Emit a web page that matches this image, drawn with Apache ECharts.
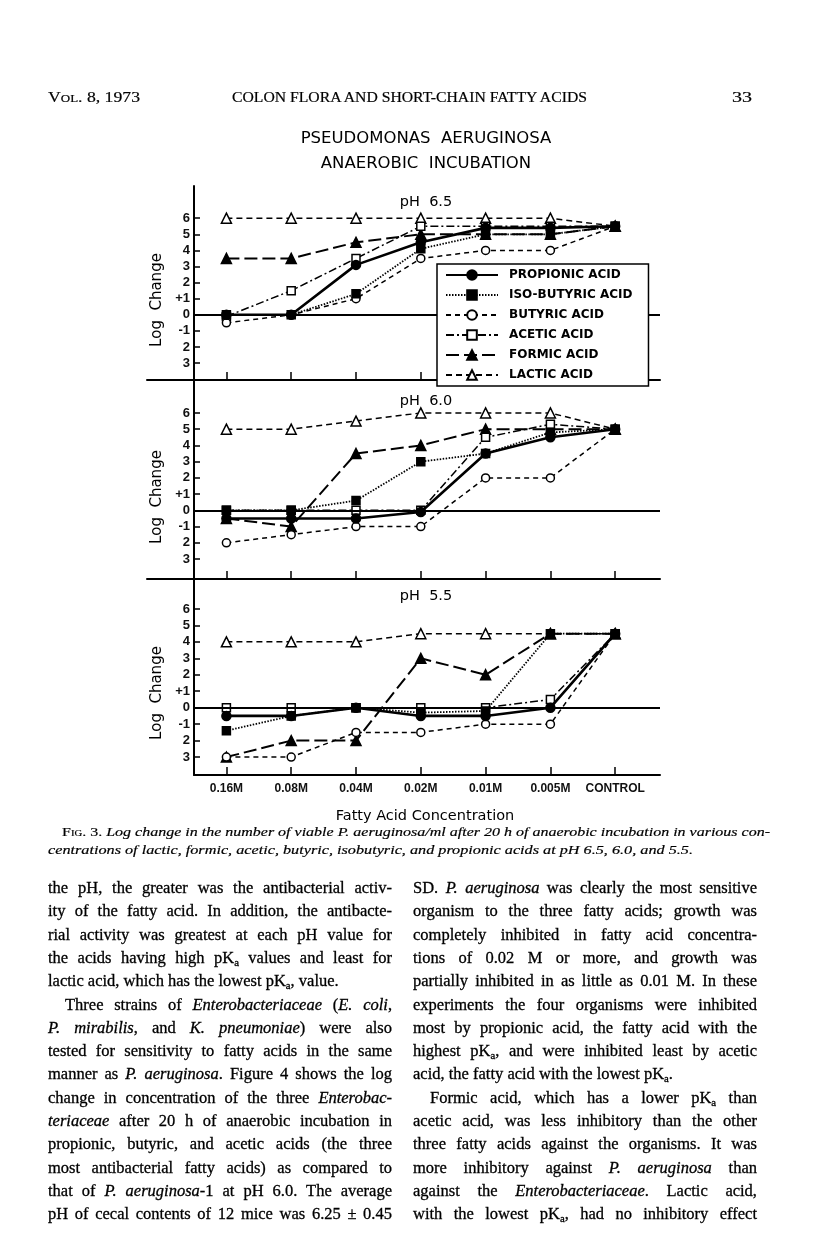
<!DOCTYPE html>
<html><head><meta charset="utf-8">
<script src="https://cdn.jsdelivr.net/npm/echarts@6/dist/echarts.min.js"></script>
<style>
html,body{margin:0;padding:0;background:#fff;}
#page{position:relative;width:816px;height:1245px;overflow:hidden;background:#fff;}
#chart{position:absolute;left:0;top:0;width:816px;height:1245px;}
.t{position:absolute;font-family:"Liberation Serif","Times New Roman",serif;color:#000;white-space:nowrap;transform-origin:0 50%;line-height:1;-webkit-text-stroke:0.2px #000;}
.ln{position:absolute;font-family:"Liberation Serif","Times New Roman",serif;font-size:16.5px;color:#000;white-space:nowrap;line-height:1;-webkit-text-stroke:0.3px #000;}
.cap{font-size:13.5px;font-style:italic;}
.sc{font-style:normal;font-variant:small-caps;}
sub{font-size:65%;vertical-align:-3px;line-height:0;}
</style></head>
<body><div id="page"><div id="chart"></div>
<div class="t" data-w="92" style="left:48px;top:90px;font-size:15px;font-variant:small-caps">Vol. 8, 1973</div>
<div class="t" data-w="355" style="left:232px;top:90px;font-size:15px">COLON FLORA AND SHORT-CHAIN FATTY ACIDS</div>
<div class="t" data-w="20" style="left:732px;top:90px;font-size:15px">33</div>
<div class="t cap" data-w="708" style="left:62px;top:825px;"><span class="sc">Fig. 3.</span> Log change in the number of viable P. aeruginosa/ml after 20 h of anaerobic incubation in various con-</div>
<div class="t cap" data-w="645" style="left:48px;top:843px;">centrations of lactic, formic, acetic, butyric, isobutyric, and propionic acids at pH 6.5, 6.0, and 5.5.</div>
<div id="body"></div>
</div>
<script>
// ---------------- data ----------------
const categories = ['0.16M', '0.08M', '0.04M', '0.02M', '0.01M', '0.005M', 'CONTROL'];
const acids = ['PROPIONIC ACID', 'ISO-BUTYRIC ACID', 'BUTYRIC ACID', 'ACETIC ACID', 'FORMIC ACID', 'LACTIC ACID'];
const panelTitles = ['pH  6.5', 'pH  6.0', 'pH  5.5'];
const yTicks = [-3, -2, -1, 0, 1, 2, 3, 4, 5, 6];
const yTickLabels = ['3', '2', '-1', '0', '+1', '2', '3', '4', '5', '6'];

// pH 6.5
const ph65Propionic  = [0, 0, 3.1, 4.5, 5.4, 5.4, 5.5];
const ph65IsoButyric = [0, 0, 1.3, 4.1, 5.0, 5.0, 5.5];
const ph65Butyric    = [-0.5, 0, 1.0, 3.5, 4.0, 4.0, 5.5];
const ph65Acetic     = [-0.1, 1.5, 3.5, 5.5, 5.5, 5.5, 5.5];
const ph65Formic     = [3.5, 3.5, 4.5, 5.0, 5.0, 5.0, 5.5];
const ph65Lactic     = [6, 6, 6, 6, 6, 6, 5.5];
// pH 6.0
const ph60Propionic  = [-0.5, -0.5, -0.5, -0.1, 3.5, 4.5, 5];
const ph60IsoButyric = [0, 0, 0.6, 3.0, 3.5, 4.8, 5];
const ph60Butyric    = [-2, -1.5, -1, -1, 2, 2, 5];
const ph60Acetic     = [0, 0, 0, 0, 4.5, 5.3, 5];
const ph60Formic     = [-0.5, -1, 3.5, 4.0, 5.0, 5.0, 5];
const ph60Lactic     = [5, 5, 5.5, 6, 6, 6, 5];
// pH 5.5
const ph55Propionic  = [-0.5, -0.5, 0, -0.5, -0.5, 0, 4.5];
const ph55IsoButyric = [-1.4, -0.5, 0, -0.3, -0.2, 4.5, 4.5];
const ph55Butyric    = [-3, -3, -1.5, -1.5, -1, -1, 4.5];
const ph55Acetic     = [0, 0, 0, 0, 0, 0.5, 4.5];
const ph55Formic     = [-3, -2, -2, 3, 2, 4.5, 4.5];
const ph55Lactic     = [4, 4, 4, 4.5, 4.5, 4.5, 4.5];

const panelData = [
  [ph65Propionic, ph65IsoButyric, ph65Butyric, ph65Acetic, ph65Formic, ph65Lactic],
  [ph60Propionic, ph60IsoButyric, ph60Butyric, ph60Acetic, ph60Formic, ph60Lactic],
  [ph55Propionic, ph55IsoButyric, ph55Butyric, ph55Acetic, ph55Formic, ph55Lactic]
];

// ---------------- styles / layout ----------------
const acidStyle = [
  {symbol: 'circle',   size: 9,  fill: '#000', dash: 'solid',     width: 2.6},
  {symbol: 'rect',     size: 8,  fill: '#000', dash: [1.5, 1.5],  width: 1.8},
  {symbol: 'circle',   size: 8,  fill: '#fff', dash: [5, 4],      width: 1.5},
  {symbol: 'rect',     size: 8,  fill: '#fff', dash: [8, 3, 2, 3], width: 1.5},
  {symbol: 'triangle', size: 10, fill: '#000', dash: [13, 5],     width: 2},
  {symbol: 'triangle', size: 10, fill: '#fff', dash: [6, 4],      width: 1.5}
];
const AX = 194, STEP = 64.8, RIGHT = 660, SEP_LEFT = 147;
const xMaxV = (RIGHT - AX) / STEP;
const gridBoxes = [
  {left: SEP_LEFT, top: 186, width: RIGHT - SEP_LEFT, height: 194, xmin: -(AX - SEP_LEFT) / STEP, ymin: -4.05, ymax: 8.0},
  {left: SEP_LEFT, top: 380, width: RIGHT - SEP_LEFT, height: 199, xmin: -(AX - SEP_LEFT) / STEP, ymin: -4.23, ymax: 8.03},
  {left: AX,       top: 579, width: RIGHT - AX,       height: 196, xmin: 0, ymin: -4.09, ymax: 7.82}
];
const xPos = categories.map((c, i) => i + 0.5);
const SANS = '"Liberation Sans", Arial, sans-serif';
const WIDE = '"DejaVu Sans", "Liberation Sans", sans-serif';

const grids = [], xAxes = [], yAxes = [], series = [];
gridBoxes.forEach((g, p) => {
  grids.push({left: g.left, top: g.top, width: g.width, height: g.height, containLabel: false});
  xAxes.push({
    type: 'value', gridIndex: p, min: g.xmin, max: xMaxV, position: 'bottom',
    axisLine: {show: true, onZero: false, lineStyle: {color: '#000', width: 2}},
    axisTick: {show: true, inside: true, length: 8, customValues: xPos, lineStyle: {color: '#000', width: 1.5}},
    axisLabel: {show: p === 2, customValues: xPos, margin: 8,
      formatter: v => categories[Math.round(v - 0.5)] || '',
      fontFamily: SANS, fontWeight: 'bold', fontSize: 12, color: '#111'},
    splitLine: {show: false}
  });
  yAxes.push({
    type: 'value', gridIndex: p, min: g.ymin, max: g.ymax, position: 'left',
    offset: g.left - AX,
    axisLine: {show: true, onZero: false, lineStyle: {color: '#000', width: 2}},
    axisTick: {show: true, inside: true, length: 6, customValues: yTicks, lineStyle: {color: '#000', width: 1.5}},
    axisLabel: {show: true, customValues: yTicks, margin: 4,
      formatter: v => { const k = yTicks.indexOf(Math.round(v)); return k >= 0 ? yTickLabels[k] : ''; },
      fontFamily: SANS, fontWeight: 'bold', fontSize: 13, color: '#111'},
    splitLine: {show: false}
  });
  panelData[p].forEach((vals, a) => {
    const st = acidStyle[a];
    const s = {
      name: acids[a], type: 'line', xAxisIndex: p, yAxisIndex: p,
      data: vals.map((v, i) => [xPos[i], v]),
      symbol: st.symbol, symbolSize: st.size, showSymbol: true,
      lineStyle: {color: '#000', width: st.width, type: st.dash},
      itemStyle: {color: st.fill, borderColor: '#000', borderWidth: 1.5},
      emphasis: {disabled: true}, animation: false, z: 3 + (5 - a) * 0.1
    };
    if (a === 0) {
      s.markLine = {
        silent: true, symbol: ['none', 'none'], label: {show: false}, animation: false,
        lineStyle: {color: '#000', type: 'solid', width: 1.8},
        data: [[{coord: [0, 0]}, {coord: [xMaxV, 0]}]]
      };
    }
    series.push(s);
  });
});

const titles = [
  {text: 'PSEUDOMONAS  AERUGINOSA\nANAEROBIC  INCUBATION', left: 421, top: 121, textAlign: 'center',
   textStyle: {fontFamily: WIDE, fontSize: 16.5, fontWeight: 'normal', color: '#000', lineHeight: 25}},
  {text: 'Fatty Acid Concentration', left: 420, top: 804, textAlign: 'center',
   textStyle: {fontFamily: WIDE, fontSize: 14.5, fontWeight: 'normal', color: '#000'}}
];
[190, 389, 584].forEach((t, p) => titles.push({
  text: panelTitles[p], left: 421, top: t, textAlign: 'center',
  textStyle: {fontFamily: WIDE, fontSize: 14.5, fontWeight: 'normal', color: '#000'}
}));

const graphics = [300, 497, 693].map(cy => ({
  type: 'text', x: 157, y: cy, rotation: Math.PI / 2,
  style: {text: 'Log  Change', fontFamily: WIDE, fontSize: 15, fill: '#000', align: 'center', verticalAlign: 'middle'}
}));

const chart = echarts.init(document.getElementById('chart'), null, {renderer: 'canvas'});
chart.setOption({
  animation: false,
  backgroundColor: 'transparent',
  title: titles,
  grid: grids, xAxis: xAxes, yAxis: yAxes, series: series,
  graphic: graphics,
  legend: {
    data: acids, orient: 'vertical', left: 437, top: 264, z: 20, selectedMode: false,
    itemWidth: 52, itemHeight: 12, itemGap: 8, padding: [5, 16, 5, 8],
    borderColor: '#000', borderWidth: 1.5, backgroundColor: '#fff',
    textStyle: {fontFamily: WIDE, fontWeight: 'bold', fontSize: 12, color: '#000', padding: [0, 0, 0, 6]}
  }
});

// ---------------- body text ----------------
const leftLines = [
  ['the pH, the greater was the antibacterial activ-', 0, 0],
  ['ity of the fatty acid. In addition, the antibacte-', 0, 0],
  ['rial activity was greatest at each pH value for', 0, 0],
  ['the acids having high pK<sub>a</sub> values and least for', 0, 0],
  ['lactic acid, which has the lowest pK<sub>a</sub>, value.', 0, 1],
  ['Three strains of <i>Enterobacteriaceae</i> (<i>E. coli</i>,', 1, 0],
  ['<i>P. mirabilis</i>, and <i>K. pneumoniae</i>) were also', 0, 0],
  ['tested for sensitivity to fatty acids in the same', 0, 0],
  ['manner as <i>P. aeruginosa</i>. Figure 4 shows the log', 0, 0],
  ['change in concentration of the three <i>Enterobac-</i>', 0, 0],
  ['<i>teriaceae</i> after 20 h of anaerobic incubation in', 0, 0],
  ['propionic, butyric, and acetic acids (the three', 0, 0],
  ['most antibacterial fatty acids) as compared to', 0, 0],
  ['that of <i>P. aeruginosa</i>-1 at pH 6.0. The average', 0, 0],
  ['pH of cecal contents of 12 mice was 6.25 ± 0.45', 0, 0]
];
const rightLines = [
  ['SD. <i>P. aeruginosa</i> was clearly the most sensitive', 0, 0],
  ['organism to the three fatty acids; growth was', 0, 0],
  ['completely inhibited in fatty acid concentra-', 0, 0],
  ['tions of 0.02 M or more, and growth was', 0, 0],
  ['partially inhibited in as little as 0.01 M. In these', 0, 0],
  ['experiments the four organisms were inhibited', 0, 0],
  ['most by propionic acid, the fatty acid with the', 0, 0],
  ['highest pK<sub>a</sub>, and were inhibited least by acetic', 0, 0],
  ['acid, the fatty acid with the lowest pK<sub>a</sub>.', 0, 1],
  ['Formic acid, which has a lower pK<sub>a</sub> than', 1, 0],
  ['acetic acid, was less inhibitory than the other', 0, 0],
  ['three fatty acids against the organisms. It was', 0, 0],
  ['more inhibitory against <i>P. aeruginosa</i> than', 0, 0],
  ['against the <i>Enterobacteriaceae</i>. Lactic acid,', 0, 0],
  ['with the lowest pK<sub>a</sub>, had no inhibitory effect', 0, 0]
];
const body = document.getElementById('body');
function placeColumn(lines, x0) {
  lines.forEach((ln, i) => {
    const d = document.createElement('div');
    d.className = 'ln';
    const indent = ln[1] ? 17 : 0;
    d.style.left = (x0 + indent) + 'px';
    d.style.top = (880 + i * 23.3) + 'px';
    d.innerHTML = ln[0];
    body.appendChild(d);
    const target = 344 - indent;
    const nat = d.getBoundingClientRect().width;
    const spaces = (d.textContent.match(/ /g) || []).length;
    if (!ln[2] && spaces > 0) d.style.wordSpacing = ((target - nat) / spaces) + 'px';
    else if (nat > target) d.style.transform = 'scaleX(' + (target / nat) + ')';
  });
}
placeColumn(leftLines, 48);
placeColumn(rightLines, 413);
document.querySelectorAll('.t[data-w]').forEach(el => {
  const w = parseFloat(el.dataset.w);
  const nat = el.getBoundingClientRect().width;
  el.style.transform = 'scaleX(' + (w / nat) + ')';
});
</script>
</body></html>
